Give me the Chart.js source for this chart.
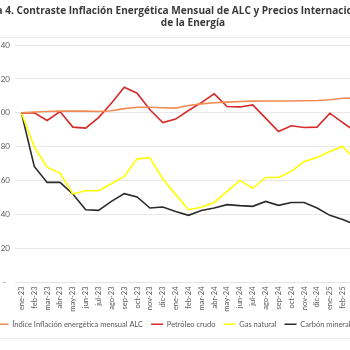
<!DOCTYPE html>
<html>
<head>
<meta charset="utf-8">
<script src="https://cdn.jsdelivr.net/npm/chart.js@4.4.1/dist/chart.umd.min.js"></script>
<style>
  html, body { margin: 0; padding: 0; background: #fff; overflow: hidden; }
  #wrap { position: absolute; left: -15px; top: 0; width: 416px; height: 350px; }
  .rule { position: absolute; left: 0; width: 350px; height: 1px; background: #ececec; }
  .titulo { position: absolute; width: 600px; text-align: center; white-space: nowrap;
            font-family: 'Open Sans', sans-serif; font-weight: bold; color: #3a3a3a; line-height: 12px; }
</style>
</head>
<body>
<div class="rule" style="top:37px"></div>
<div class="rule" style="top:338px"></div>
<div id="wrap"><canvas id="grafica"></canvas></div>
<div class="titulo" id="t1" style="left:-127px; top:4px">Gráfica 4. Contraste Inflación Energética Mensual de ALC y Precios Internacionales</div>
<div class="titulo" id="t2" style="left:-107px; top:16px">de la Energía</div>
<script>
// meses
var meses = ['ene-23','feb-23','mar-23','abr-23','may-23','jun-23','jul-23','ago-23','sep-23','oct-23','nov-23','dic-23',
             'ene-24','feb-24','mar-24','abr-24','may-24','jun-24','jul-24','ago-24','sep-24','oct-24','nov-24','dic-24',
             'ene-25','feb-25','mar-25'];

// series (base ene-23 = 100)
var indiceALC = [100,100.5,100.8,101,101,101,100.8,101.2,102.5,103.3,103.3,103,102.8,104.3,105.3,106,106.3,106.7,106.9,107,107,107,107.1,107.3,107.7,108.6,108.7];
var petroleo  = [100,100,95.5,100.8,91.6,91,97.2,105.7,115.1,111.6,101.8,94.3,96.3,101.4,106,111.2,103.7,103.5,104.7,96.9,89,92.4,91.4,91.6,99.8,94.3,89];
var gasNatural = [100,80,68,64.5,52.2,54.1,54.1,58.2,62.5,72.9,73.5,61,51.8,42.9,44.3,47.2,53.7,60.2,55.5,61.9,61.9,65.5,71.4,73.7,77.2,80.2,72];
var carbon    = [100,68.4,59,59,52.2,42.9,42.5,47.8,52.4,50.4,43.9,44.5,41.9,39.6,42.4,43.9,45.9,45.3,44.9,47.8,45.5,47.2,47.2,43.9,39.6,37.1,34];

var ticksY = [0,20,40,60,80,100,120,140];

// tamaño del título: que la primera línea mida ~414px como en el original
(function () {
    var m = document.createElement('canvas').getContext('2d');
    m.font = "bold 10px 'Open Sans'";
    var w = m.measureText(document.getElementById('t1').textContent).width;
    var size = 10 * 414 / w;
    document.getElementById('t1').style.fontSize = size + 'px';
    document.getElementById('t2').style.fontSize = size + 'px';
})();

function serie(label, data, color) {
    return {
        label: label,
        data: data,
        borderColor: color,
        backgroundColor: color,
        borderWidth: 1.6,
        pointRadius: 0,
        tension: 0,
        fill: false
    };
}

var ctx = document.getElementById('grafica').getContext('2d');

var myChart = new Chart(ctx, {
    type: 'line',
    data: {
        labels: meses,
        datasets: [
            serie('Índice Inflación energética mensual ALC', indiceALC, '#F28B52'),
            serie('Petróleo crudo', petroleo, '#D42A2A'),
            serie('Gas natural', gasNatural, '#FFFF00'),
            serie('Carbón mineral', carbon, '#2B2B2B')
        ]
    },
    options: {
        responsive: true,
        maintainAspectRatio: false,
        animation: false,
        layout: { padding: { left: 0, right: 39, top: 45, bottom: 12 } },
        plugins: {
            title: { display: false },
            legend: {
                position: 'bottom',
                labels: {
                    usePointStyle: true,
                    pointStyle: 'line',
                    pointStyleWidth: 12,
                    color: '#595959',
                    padding: 8,
                    font: { family: 'Lato', size: 7.5 }
                }
            },
            tooltip: { enabled: false }
        },
        scales: {
            x: {
                offset: true,
                grid: { display: false, drawTicks: false },
                border: { display: true, color: '#e3e3e3' },
                ticks: {
                    autoSkip: false,
                    maxRotation: 90,
                    minRotation: 90,
                    padding: 4,
                    color: '#595959',
                    font: { family: 'Lato', size: 7.5 }
                },
                afterFit: function (s) { s.height = 30; }
            },
            y: {
                min: 0,
                max: 140,
                afterBuildTicks: function (s) { s.ticks = ticksY.map(function (v) { return { value: v }; }); },
                grid: { color: '#e8e8e8', drawTicks: false },
                border: { display: false },
                ticks: {
                    padding: 5,
                    color: '#595959',
                    font: { family: 'Lato', size: 8 },
                    callback: function (v) { return v === 0 ? '-  ' : v; }
                },
                afterFit: function (s) { s.width = 30; }
            }
        }
    }
});
</script>
</body>
</html>
